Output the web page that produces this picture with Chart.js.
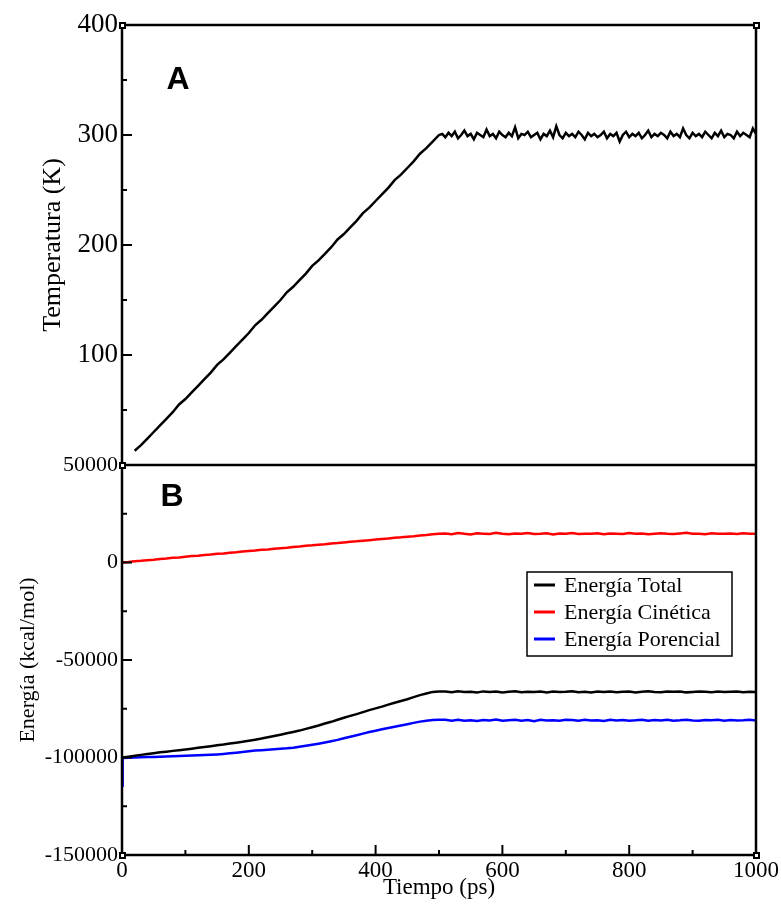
<!DOCTYPE html>
<html>
<head>
<meta charset="utf-8">
<script src="https://cdn.jsdelivr.net/npm/chart.js@4.4.1/dist/chart.umd.min.js"></script>
<style>
  html, body { margin: 0; padding: 0; background: #fff; }
</style>
</head>
<body>
<canvas id="grafico" width="781" height="906"></canvas>
<script>
// Tiempo en ps para las energías
const tiempo = [
  0, 1, 10, 20, 30, 40, 50, 60, 70, 80, 90, 100,
  110, 120, 130, 140, 150, 160, 170, 180, 190, 200,
  210, 220, 230, 240, 250, 260, 270, 280, 290, 300,
  310, 320, 330, 340, 350, 360, 370, 380, 390, 400,
  410, 420, 430, 440, 450, 460, 470, 480, 490, 500,
  510, 520, 530, 540, 550, 560, 570, 580, 590, 600,
  610, 620, 630, 640, 650, 660, 670, 680, 690, 700,
  710, 720, 730, 740, 750, 760, 770, 780, 790, 800,
  810, 820, 830, 840, 850, 860, 870, 880, 890, 900,
  910, 920, 930, 940, 950, 960, 970, 980, 990, 1000
];

// Tiempo en ps para la temperatura (más denso en la meseta)
const tiempoTemp = [
  20, 30, 40, 50, 60, 70, 80, 90, 100,
  110, 120, 130, 140, 150, 160, 170, 180, 190, 200,
  210, 220, 230, 240, 250, 260, 270, 280, 290, 300,
  310, 320, 330, 340, 350, 360, 370, 380, 390, 400,
  410, 420, 430, 440, 450, 460, 470, 480, 490, 500,
  505, 510, 515, 520, 525, 530, 535, 540, 545, 550,
  555, 560, 565, 570, 575, 580, 585, 590, 595, 600,
  605, 610, 615, 620, 625, 630, 635, 640, 645, 650,
  655, 660, 665, 670, 675, 680, 685, 690, 695, 700,
  705, 710, 715, 720, 725, 730, 735, 740, 745, 750,
  755, 760, 765, 770, 775, 780, 785, 790, 795, 800,
  805, 810, 815, 820, 825, 830, 835, 840, 845, 850,
  855, 860, 865, 870, 875, 880, 885, 890, 895, 900,
  905, 910, 915, 920, 925, 930, 935, 940, 945, 950,
  955, 960, 965, 970, 975, 980, 985, 990, 995, 1000
];

// Panel A: temperatura (K)
const temperatura = [
  13, 18, 24, 30, 36, 42, 48, 55, 60,
  66, 72, 78, 84, 91, 96, 102, 108, 114, 120,
  127, 132, 138, 144, 150, 157, 162, 168, 174, 181,
  186, 192, 198, 205, 210, 216, 222, 229, 234, 240,
  246, 252, 259, 264, 270, 276, 283, 288, 294, 300,
  301, 298, 302, 299, 303, 297, 300, 304, 299, 301,
  296, 302, 300, 298, 305, 299, 301, 297, 303, 300,
  298, 302, 299, 307, 297, 301, 300, 303, 298, 300,
  302, 296, 301, 299, 304, 298, 308, 300, 297, 302,
  299, 301, 298, 303, 300, 296, 302, 299, 301, 298,
  300, 303, 297, 301, 299, 302, 294, 300, 303, 298,
  301, 299, 302, 297, 300, 304, 298, 301, 299, 302,
  300, 297, 303, 299, 301, 298, 306, 300, 297, 302,
  299, 301, 298, 303, 300, 297, 302, 299, 304, 298,
  301, 300, 297, 303, 299, 302, 300, 298, 306, 301
];

// Panel B: energías (kcal/mol)
const energiaTotal = [
  -100000, -100000, -99550, -99150, -98650, -98250, -97800, -97350, -97000, -96600, -96250, -95900,
  -95500, -95050, -94600, -94200, -93750, -93350, -92850, -92400, -91950, -91400,
  -90850, -90300, -89650, -88950, -88300, -87600, -86900, -86200, -85300, -84450,
  -83600, -82600, -81700, -80650, -79600, -78650, -77750, -76700, -75700, -74800,
  -73900, -72900, -71900, -71000, -70100, -69050, -68000, -67150, -66350, -66100,
  -66200, -66500, -66000, -66400, -66300, -66700, -66100, -66400, -66200, -66600,
  -66300, -66000, -66500, -66300, -66400, -66100, -66600, -66200, -66400, -66300,
  -66000, -66500, -66300, -66600, -66200, -66400, -66100, -66500, -66300, -66200,
  -66600, -66300, -66000, -66400, -66500, -66200, -66300, -66100, -66600, -66400,
  -66200, -66300, -66500, -66100, -66400, -66300, -66200, -66500, -66300, -66400
];

const energiaCinetica = [
  0, 30, 250, 620, 850, 1200, 1450, 1800, 2000, 2400, 2600, 2950,
  3300, 3500, 3850, 4100, 4450, 4650, 5050, 5250, 5600, 5900,
  6150, 6500, 6700, 7100, 7350, 7600, 7950, 8200, 8550, 8800,
  9150, 9350, 9750, 9950, 10300, 10600, 10850, 11200, 11450, 11750,
  12100, 12300, 12700, 12900, 13250, 13500, 13850, 14050, 14450, 14700,
  14900, 14500, 15100, 14700, 14400, 15000, 14800, 14600, 15200, 14700,
  14500, 14900, 14800, 15100, 14600, 14700, 15000, 14400, 14900, 14800,
  15100, 14600, 14800, 14700, 15000, 14500, 14900, 14800, 14600, 15100,
  14700, 14900, 14500, 14800, 15000, 14700, 14600, 14900, 15200, 14700,
  14800, 14500, 15000, 14800, 14700, 14900, 14600, 15000, 14800, 14700
];

const energiaPotencial = [
  -114500, -100200, -100100, -100000, -99900, -99800, -99700, -99600, -99500, -99400, -99250, -99100,
  -99000, -98900, -98750, -98600, -98400, -98150, -97850, -97550, -97200, -96800,
  -96450, -96250, -96000, -95800, -95550, -95300, -94950, -94500, -94000, -93450,
  -92900, -92300, -91650, -90950, -90150, -89350, -88550, -87750, -86950, -86250,
  -85550, -84900, -84250, -83600, -82950, -82250, -81600, -81100, -80800, -80700,
  -80700, -81200, -80600, -81100, -80900, -81300, -80800, -81000, -80500, -81200,
  -80900, -80700, -81100, -80800, -81400, -80600, -81000, -80900, -81200, -80700,
  -80800, -81100, -80600, -81000, -80900, -81300, -80700, -81000, -80800, -81100,
  -80900, -80600, -81200, -80800, -81000, -80700, -81100, -80900, -80600, -81000,
  -81200, -80800, -80900, -80700, -81100, -80800, -81000, -80900, -80700, -81000
];

// Etiquetas de los ejes
const ticksTiempo = [0, 200, 400, 600, 800, 1000];
const ticksTemperatura = [100, 200, 300, 400];
const ticksEnergia = [-150000, -100000, -50000, 0, 50000];

const serif = '"Liberation Serif", "Times New Roman", serif';

function puntos(tiempos, valores) {
  return tiempos.map((t, i) => ({ x: t, y: valores[i] }));
}

// Dibuja el marco, las marcas hacia dentro, las letras A/B y la leyenda
const marcoPlugin = {
  id: 'marco',
  afterDatasetsDraw(chart) {
    const { ctx, chartArea: a, scales } = chart;
    const linea = (x1, y1, x2, y2) => {
      ctx.beginPath();
      ctx.moveTo(x1, y1);
      ctx.lineTo(x2, y2);
      ctx.stroke();
    };
    ctx.save();
    ctx.strokeStyle = '#000';
    ctx.lineWidth = 2.5;
    ctx.strokeRect(a.left, a.top, a.right - a.left, a.bottom - a.top);
    const yDiv = scales.yE.top;
    linea(a.left, yDiv, a.right, yDiv);

    // cuadritos en las esquinas (como en xmgrace)
    ctx.fillStyle = '#000';
    [[a.left, a.top], [a.right, a.top], [a.left, yDiv], [a.left, a.bottom], [a.right, a.bottom]].forEach(([cx, cy]) => {
      ctx.fillRect(cx - 3, cy - 3, 7, 7);
      ctx.fillStyle = '#fff';
      ctx.fillRect(cx - 1, cy - 1, 3, 3);
      ctx.fillStyle = '#000';
    });

    // marcas del eje x
    ctx.lineWidth = 2;
    scales.x.ticks.forEach(t => {
      if (t.value === scales.x.min || t.value === scales.x.max) return;
      const px = scales.x.getPixelForValue(t.value);
      const largo = ticksTiempo.includes(t.value) ? 10 : 5;
      linea(px, a.bottom, px, a.bottom - largo);
    });
    // marcas de los ejes y
    [['yT', ticksTemperatura], ['yE', ticksEnergia]].forEach(([id, mayores]) => {
      const s = scales[id];
      s.ticks.forEach(t => {
        if (t.value === s.min || t.value === s.max) return;
        const py = s.getPixelForValue(t.value);
        const largo = mayores.includes(t.value) ? 10 : 5;
        linea(a.left, py, a.left + largo, py);
      });
    });

    // letras de panel
    ctx.font = 'bold 32px "Liberation Sans", Arial, sans-serif';
    ctx.textAlign = 'center';
    ctx.textBaseline = 'middle';
    ctx.fillText('A', 178, 80);
    ctx.fillText('B', 172, 497);

    // leyenda
    const energias = chart.data.datasets.filter(d => d.yAxisID === 'yE');
    ctx.lineWidth = 1.5;
    ctx.strokeRect(527, 572, 205, 84);
    ctx.font = '22px ' + serif;
    ctx.textAlign = 'left';
    energias.forEach((d, i) => {
      const y = 585 + i * 27;
      ctx.strokeStyle = d.borderColor;
      ctx.lineWidth = 3;
      linea(534, y, 555, y);
      ctx.fillText(d.label, 564, y + 1);
    });
    ctx.restore();
  }
};

new Chart(document.getElementById('grafico'), {
  type: 'line',
  data: {
    datasets: [
      {
        label: 'Temperatura',
        data: puntos(tiempoTemp, temperatura),
        yAxisID: 'yT',
        borderColor: '#000000',
        borderWidth: 2.5,
        pointRadius: 0
      },
      {
        label: 'Energía Total',
        data: puntos(tiempo, energiaTotal),
        yAxisID: 'yE',
        borderColor: '#000000',
        borderWidth: 2.5,
        pointRadius: 0
      },
      {
        label: 'Energía Cinética',
        data: puntos(tiempo, energiaCinetica),
        yAxisID: 'yE',
        borderColor: '#ff0000',
        borderWidth: 2.5,
        pointRadius: 0
      },
      {
        label: 'Energía Porencial',
        data: puntos(tiempo, energiaPotencial),
        yAxisID: 'yE',
        borderColor: '#0000ff',
        borderWidth: 2.5,
        pointRadius: 0
      }
    ]
  },
  options: {
    responsive: false,
    animation: false,
    devicePixelRatio: 1,
    layout: { padding: { left: 0, right: 24, top: 25, bottom: 0 } },
    plugins: {
      legend: { display: false },
      tooltip: { enabled: false }
    },
    scales: {
      x: {
        type: 'linear',
        min: 0,
        max: 1000,
        grid: { display: false, drawTicks: false },
        border: { display: false },
        ticks: {
          stepSize: 100,
          autoSkip: false,
          maxRotation: 0,
          padding: 2,
          color: '#000',
          font: { family: serif, size: 23 },
          callback: v => ticksTiempo.includes(v) ? v : ''
        },
        title: {
          display: true,
          text: 'Tiempo (ps)',
          color: '#000',
          font: { family: serif, size: 23 },
          padding: { top: 0, bottom: 4 }
        },
        afterFit: s => { s.height = 51; }
      },
      yE: {
        type: 'linear',
        position: 'left',
        stack: 'panel',
        stackWeight: 390,
        weight: 1,
        min: -150000,
        max: 50000,
        grid: { display: false, drawTicks: false },
        border: { display: false },
        ticks: {
          stepSize: 25000,
          autoSkip: false,
          padding: 4,
          color: '#000',
          font: { family: serif, size: 22 },
          callback: v => ticksEnergia.includes(v) ? v : ''
        },
        title: {
          display: true,
          text: 'Energía (kcal/mol)',
          color: '#000',
          font: { family: serif, size: 22 },
          padding: { top: 15 }
        },
        afterFit: s => { s.width = 122; }
      },
      yT: {
        type: 'linear',
        position: 'left',
        stack: 'panel',
        stackWeight: 440,
        weight: 2,
        min: 0,
        max: 400,
        grid: { display: false, drawTicks: false },
        border: { display: false },
        ticks: {
          stepSize: 50,
          autoSkip: false,
          padding: 4,
          color: '#000',
          font: { family: serif, size: 27 },
          callback: v => ticksTemperatura.includes(v) ? v : ''
        },
        title: {
          display: true,
          text: 'Temperatura (K)',
          color: '#000',
          font: { family: serif, size: 26 },
          padding: { top: 38 }
        },
        afterFit: s => { s.width = 122; }
      }
    }
  },
  plugins: [marcoPlugin]
});
</script>
</body>
</html>
